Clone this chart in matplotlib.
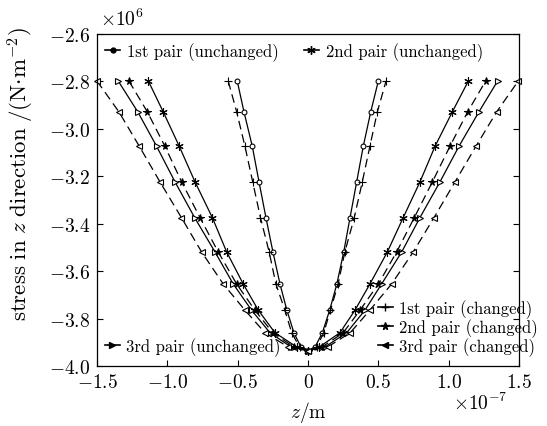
import matplotlib
matplotlib.use("Agg")
import matplotlib.pyplot as plt
from matplotlib.lines import Line2D
from matplotlib.ticker import FuncFormatter

plt.rcParams.update({
    "font.family": "cmr10",
    "mathtext.fontset": "cm",
    "axes.unicode_minus": False,
    "axes.formatter.use_mathtext": True,
})

# stress levels (x10^6 N/m^2), from top-left, down to the minimum, up to top-right
stress = [-2.80, -2.93, -3.075, -3.225, -3.375, -3.52, -3.655, -3.765, -3.86, -3.92, -3.935,
          -3.92, -3.86, -3.765, -3.655, -3.52, -3.375, -3.225, -3.075, -2.93, -2.80]

# z positions (x10^-7 m)
z_pair1_unchanged = [-0.503, -0.455, -0.396, -0.348, -0.299, -0.249, -0.199, -0.150, -0.100, -0.050, 0.0,
                     0.050, 0.102, 0.154, 0.205, 0.254, 0.299, 0.346, 0.393, 0.446, 0.500]
z_pair1_changed = [-0.567, -0.507, -0.448, -0.393, -0.338, -0.276, -0.228, -0.164, -0.116, -0.060, 0.0,
                   0.062, 0.112, 0.160, 0.214, 0.262, 0.329, 0.386, 0.440, 0.493, 0.555]
z_pair2_unchanged = [-1.135, -1.029, -0.915, -0.803, -0.680, -0.578, -0.460, -0.353, -0.235, -0.080, 0.0,
                     0.080, 0.227, 0.334, 0.440, 0.564, 0.677, 0.796, 0.903, 1.026, 1.140]
z_pair2_changed = [-1.273, -1.142, -1.017, -0.898, -0.768, -0.638, -0.507, -0.377, -0.251, -0.100, 0.0,
                   0.100, 0.250, 0.370, 0.500, 0.630, 0.756, 0.884, 1.009, 1.135, 1.263]
z_pair3_unchanged = [-1.349, -1.210, -1.076, -0.945, -0.806, -0.661, -0.531, -0.401, -0.270, -0.120, 0.0,
                     0.120, 0.275, 0.405, 0.523, 0.666, 0.796, 0.938, 1.073, 1.215, 1.348]
z_pair3_changed = [-1.500, -1.344, -1.199, -1.052, -0.900, -0.756, -0.602, -0.448, -0.306, -0.140, 0.0,
                   0.140, 0.300, 0.440, 0.594, 0.748, 0.896, 1.045, 1.194, 1.341, 1.495]

labels = ["1st pair (unchanged)", "2nd pair (unchanged)", "3rd pair (unchanged)",
          "1st pair (changed)", "2nd pair (changed)", "3rd pair (changed)"]

xticks = [-1.5, -1.0, -0.5, 0, 0.5, 1.0, 1.5]
yticks = [-4.0, -3.8, -3.6, -3.4, -3.2, -3.0, -2.8, -2.6]

fig = plt.figure(figsize=(5.47, 4.27), dpi=100)
ax = fig.add_axes([0.1773, 0.1405, 0.7715, 0.7787])

# style per series: (z, marker, markersize, filled, dashed)
series = [
    (z_pair1_unchanged, "o", 3.5, False, False),
    (z_pair2_unchanged, (6, 2, 0), 6, True, False),
    (z_pair3_unchanged, ">", 4, False, False),
    (z_pair1_changed, "+", 6, True, True),
    (z_pair2_changed, "*", 5.5, True, True),
    (z_pair3_changed, "<", 4, False, True),
]

handles = []
for (z, mk, ms, filled, dashed), lab in zip(series, labels):
    ls = (0, (7, 4)) if dashed else "-"
    ax.plot(z, stress, color="black", lw=0.9, linestyle=ls, marker=mk, ms=ms,
            mfc="black" if filled else "white", mec="black", mew=0.8, clip_on=False)
    # legend uses filled markers with a short solid stroke
    handles.append(Line2D([], [], color="black", lw=1.2, marker=mk, ms=ms,
                          mfc="black", mec="black", mew=1.0, label=lab))

ax.set_xlim(-1.5, 1.5)
ax.set_ylim(-4.0, -2.6)
ax.set_xticks(xticks)
ax.set_yticks(yticks)
ax.xaxis.set_major_formatter(FuncFormatter(lambda v, p: "$0$" if abs(v) < 1e-9 else "$%.1f$" % v))
ax.yaxis.set_major_formatter(FuncFormatter(lambda v, p: "$%.1f$" % v))
ax.tick_params(direction="in", length=4, width=0.8, labelsize=14, pad=5, right=True)
for s in ax.spines.values():
    s.set_linewidth(0.9)

ax.set_xlabel(r"$z/\mathrm{m}$", fontsize=14, labelpad=6)
ax.set_ylabel(r"$\mathrm{stress\ in}\ z\ \mathrm{direction}\ /(\mathrm{N{\cdot}m^{-2}})$", fontsize=16.5)
ax.yaxis.set_label_coords(-0.145, 0.58)

fig.text(0.183, 0.955, r"$\times10^{6}$", fontsize=14, ha="left", va="center")
fig.text(0.828, 0.055, r"$\times10^{-7}$", fontsize=14, ha="left", va="center")

legkw = dict(frameon=False, fontsize=12, handlelength=0.9, handletextpad=0.4,
             borderpad=0, borderaxespad=0)
leg1 = ax.legend(handles=handles[:2], ncol=2, columnspacing=1.5, loc="upper left",
                 bbox_to_anchor=(0.02, 0.975), **legkw)
ax.add_artist(leg1)
leg2 = ax.legend(handles=handles[2:3], loc="lower left", bbox_to_anchor=(0.018, 0.03), **legkw)
ax.add_artist(leg2)
ax.legend(handles=handles[3:], loc="lower left", bbox_to_anchor=(0.665, 0.03),
          labelspacing=0.03, **legkw)

fig.savefig("out.png", dpi=100)
